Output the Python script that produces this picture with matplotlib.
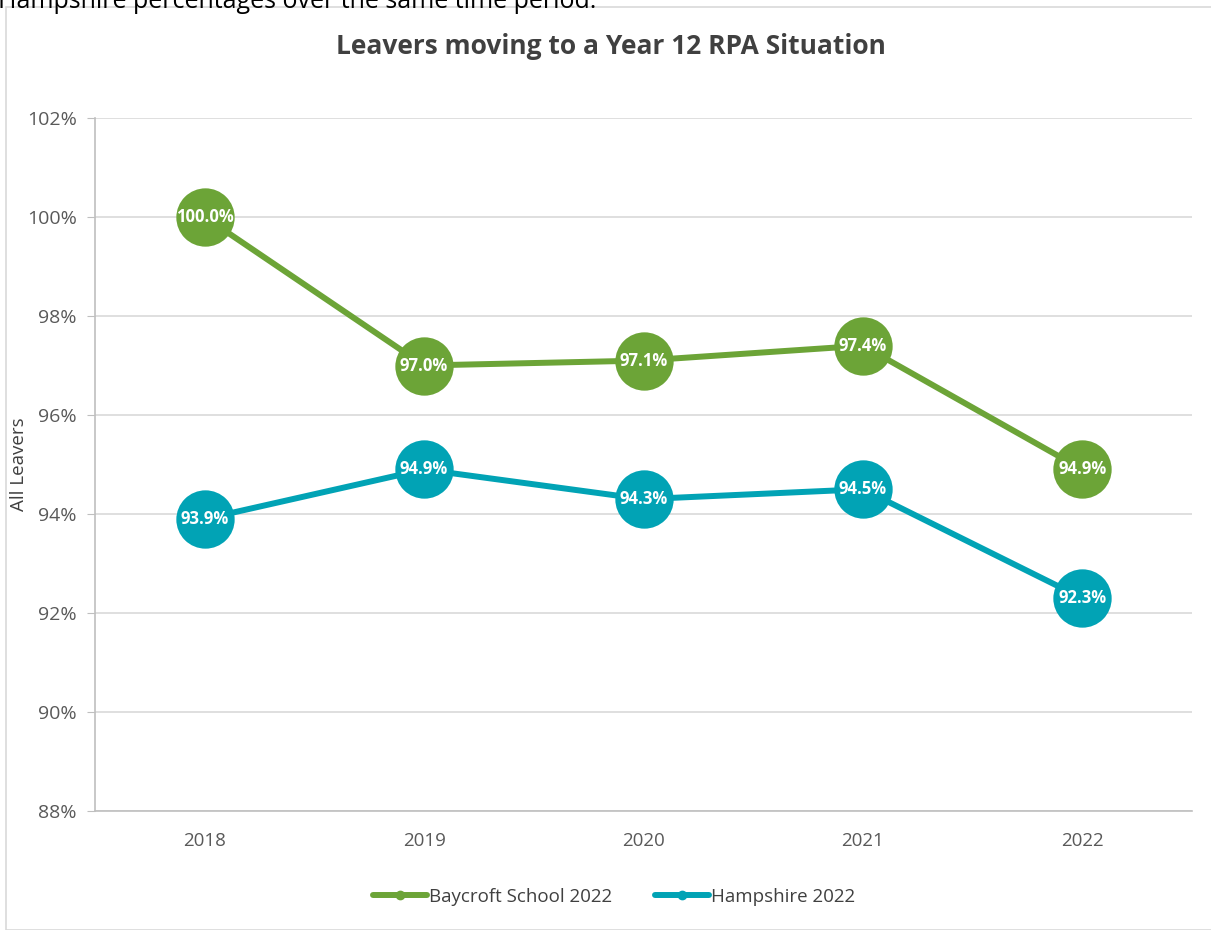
import matplotlib
matplotlib.use("Agg")
import matplotlib.pyplot as plt
from matplotlib.patches import Rectangle
from matplotlib.ticker import FuncFormatter

years = ["2018", "2019", "2020", "2021", "2022"]
baycroft = [100.0, 97.0, 97.1, 97.4, 94.9]
hampshire = [93.9, 94.9, 94.3, 94.5, 92.3]
series_names = ["Baycroft School 2022", "Hampshire 2022"]
title = "Leavers moving to a Year 12 RPA Situation"
ylabel = "All Leavers"
caption = "Hampshire percentages over the same time period."

plt.rcParams['font.family'] = ['Open Sans', 'DejaVu Sans']

W, H = 1211, 930
fig = plt.figure(figsize=(W / 100, H / 100), dpi=100)

# chart border
fig.patches.append(Rectangle((6 / W, 0), 1.2, 1 - 7 / H, transform=fig.transFigure,
                             fill=False, edgecolor="#d9d9d9", linewidth=1.2))
fig.text(-0.002, 1 - 1 / H, caption, fontsize=18, color="#000000", ha="left", va="center")

ax = fig.add_axes([95 / W, 1 - 811 / H, (1192 - 95) / W, (811 - 118) / H])
x = list(range(len(years)))
green = "#6ca437"
teal = "#01a3b5"

for vals, col, name in [(baycroft, green, series_names[0]), (hampshire, teal, series_names[1])]:
    ax.plot(x, vals, color=col, linewidth=4.3, solid_capstyle="round", zorder=3)
    ax.plot(x, vals, linestyle="none", marker="o", markersize=42, markerfacecolor=col,
            markeredgecolor="none", zorder=4)
    for xi, v in zip(x, vals):
        ax.text(xi, v, f"{v:.1f}%", color="white", fontsize=12, fontweight="bold",
                ha="center", va="center", zorder=5)
    ax.plot([], [], color=col, linewidth=4.3, marker="o", markersize=6,
            solid_capstyle="round", label=name)

ax.set_xlim(-0.5, len(years) - 0.5)
ax.set_ylim(88, 102)
ax.set_yticks([88, 90, 92, 94, 96, 98, 100, 102])
ax.yaxis.set_major_formatter(FuncFormatter(lambda v, p: f"{v:.0f}%"))
ax.set_xticks(x)
ax.set_xticklabels(years)
ax.grid(axis="y", color="#d9d9d9", linewidth=1.2, zorder=0)
ax.set_axisbelow(True)
for s in ["top", "right"]:
    ax.spines[s].set_visible(False)
for s in ["left", "bottom"]:
    ax.spines[s].set_color("#bfbfbf")
    ax.spines[s].set_linewidth(1.2)
ax.tick_params(axis="y", length=6, color="#bfbfbf", labelsize=14, labelcolor="#595959", pad=7)
ax.tick_params(axis="x", length=0, labelsize=13.5, labelcolor="#595959", pad=15)

ax.set_ylabel(ylabel, fontsize=13.5, color="#404040")
ax.yaxis.set_label_coords(-67 / (1192 - 95), 0.5)

fig.text(611 / W, 1 - 46 / H, title, fontsize=19, fontweight="bold", color="#404040",
         ha="center", va="center")

leg = fig.legend(loc="center", bbox_to_anchor=(614 / W, 1 - 897 / H), ncol=2, frameon=False,
                 fontsize=13.5, handlelength=2.9, handletextpad=0.1, columnspacing=2.3)
for t in leg.get_texts():
    t.set_color("#404040")

fig.savefig("out.png", dpi=100)
